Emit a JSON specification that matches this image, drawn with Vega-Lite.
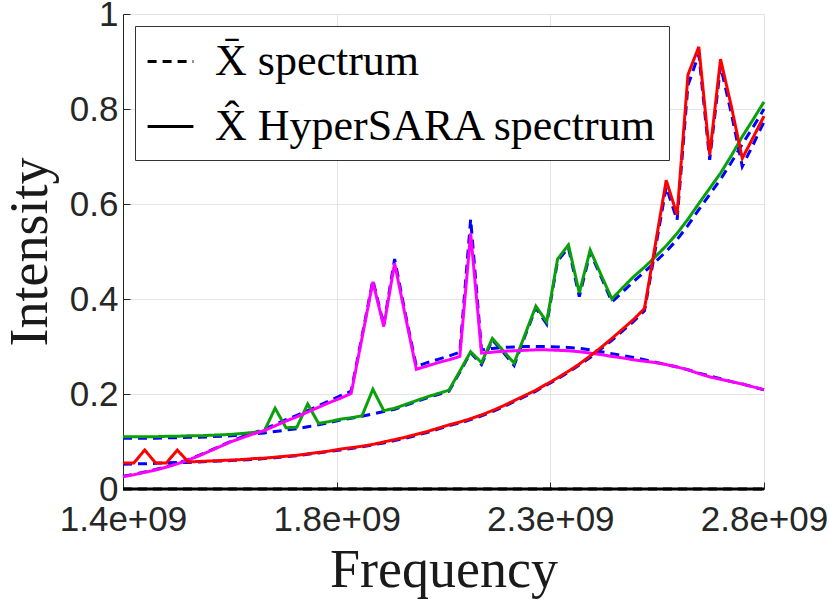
{
  "$schema": "https://vega.github.io/schema/vega-lite/v6.json",
  "width": 641,
  "height": 475,
  "autosize": {"type": "none"},
  "padding": {"left": 123, "top": 14, "right": 66, "bottom": 114},
  "background": "white",
  "config": {
    "view": {"stroke": null},
    "axis": {
      "labelFont": "Liberation Sans",
      "labelFontSize": 35,
      "labelColor": "#262626",
      "gridColor": "#e3e3e3",
      "gridWidth": 1,
      "tickColor": "#262626",
      "tickSize": -7,
      "domainColor": "#262626",
      "domainWidth": 1,
      "titleFont": "Liberation Serif",
      "titleFontSize": 54,
      "titleFontWeight": "normal",
      "titleColor": "#1a1a1a"
    }
  },
  "data": {
    "values": [
      {"f": 1400000000, "tR": 0.052, "tG": 0.107, "tM": 0.027, "tD": 0, "eR": 0.055, "eG": 0.110, "eM": 0.026, "eD": 0},
      {"f": 1423728814, "tR": 0.053, "tG": 0.107, "tM": 0.031, "tD": 0, "eR": 0.055, "eG": 0.110, "eM": 0.030, "eD": 0},
      {"f": 1447457627, "tR": 0.053, "tG": 0.107, "tM": 0.036, "tD": 0, "eR": 0.082, "eG": 0.110, "eM": 0.035, "eD": 0},
      {"f": 1471186441, "tR": 0.054, "tG": 0.107, "tM": 0.041, "tD": 0, "eR": 0.055, "eG": 0.110, "eM": 0.040, "eD": 0},
      {"f": 1494915254, "tR": 0.055, "tG": 0.108, "tM": 0.047, "tD": 0, "eR": 0.055, "eG": 0.111, "eM": 0.046, "eD": 0},
      {"f": 1518644068, "tR": 0.056, "tG": 0.108, "tM": 0.054, "tD": 0, "eR": 0.082, "eG": 0.111, "eM": 0.053, "eD": 0},
      {"f": 1542372881, "tR": 0.056, "tG": 0.109, "tM": 0.062, "tD": 0, "eR": 0.057, "eG": 0.112, "eM": 0.061, "eD": 0},
      {"f": 1566101695, "tR": 0.057, "tG": 0.109, "tM": 0.071, "tD": 0, "eR": 0.058, "eG": 0.112, "eM": 0.070, "eD": 0},
      {"f": 1589830508, "tR": 0.058, "tG": 0.110, "tM": 0.081, "tD": 0, "eR": 0.059, "eG": 0.113, "eM": 0.080, "eD": 0},
      {"f": 1613559322, "tR": 0.059, "tG": 0.111, "tM": 0.091, "tD": 0, "eR": 0.060, "eG": 0.114, "eM": 0.090, "eD": 0},
      {"f": 1637288136, "tR": 0.060, "tG": 0.112, "tM": 0.101, "tD": 0, "eR": 0.061, "eG": 0.115, "eM": 0.100, "eD": 0},
      {"f": 1661016949, "tR": 0.061, "tG": 0.114, "tM": 0.110, "tD": 0, "eR": 0.062, "eG": 0.117, "eM": 0.108, "eD": 0},
      {"f": 1684745763, "tR": 0.062, "tG": 0.116, "tM": 0.118, "tD": 0, "eR": 0.064, "eG": 0.119, "eM": 0.116, "eD": 0},
      {"f": 1708474576, "tR": 0.064, "tG": 0.118, "tM": 0.126, "tD": 0, "eR": 0.065, "eG": 0.122, "eM": 0.123, "eD": 0},
      {"f": 1732203390, "tR": 0.066, "tG": 0.121, "tM": 0.136, "tD": 0, "eR": 0.067, "eG": 0.170, "eM": 0.133, "eD": 0},
      {"f": 1755932203, "tR": 0.068, "tG": 0.124, "tM": 0.146, "tD": 0, "eR": 0.069, "eG": 0.129, "eM": 0.143, "eD": 0},
      {"f": 1779661017, "tR": 0.070, "tG": 0.127, "tM": 0.155, "tD": 0, "eR": 0.071, "eG": 0.130, "eM": 0.152, "eD": 0},
      {"f": 1803389831, "tR": 0.073, "tG": 0.131, "tM": 0.165, "tD": 0, "eR": 0.074, "eG": 0.179, "eM": 0.162, "eD": 0},
      {"f": 1827118644, "tR": 0.076, "tG": 0.135, "tM": 0.175, "tD": 0, "eR": 0.077, "eG": 0.138, "eM": 0.172, "eD": 0},
      {"f": 1850847458, "tR": 0.079, "tG": 0.140, "tM": 0.186, "tD": 0, "eR": 0.080, "eG": 0.142, "eM": 0.182, "eD": 0},
      {"f": 1874576271, "tR": 0.082, "tG": 0.145, "tM": 0.196, "tD": 0, "eR": 0.084, "eG": 0.147, "eM": 0.191, "eD": 0},
      {"f": 1898305085, "tR": 0.085, "tG": 0.149, "tM": 0.206, "tD": 0, "eR": 0.087, "eG": 0.150, "eM": 0.201, "eD": 0},
      {"f": 1922033898, "tR": 0.089, "tG": 0.153, "tM": 0.322, "tD": 0, "eR": 0.090, "eG": 0.154, "eM": 0.318, "eD": 0},
      {"f": 1945762712, "tR": 0.093, "tG": 0.158, "tM": 0.440, "tD": 0, "eR": 0.094, "eG": 0.210, "eM": 0.436, "eD": 0},
      {"f": 1969491525, "tR": 0.097, "tG": 0.163, "tM": 0.345, "tD": 0, "eR": 0.099, "eG": 0.165, "eM": 0.342, "eD": 0},
      {"f": 1993220339, "tR": 0.102, "tG": 0.168, "tM": 0.484, "tD": 0, "eR": 0.104, "eG": 0.170, "eM": 0.475, "eD": 0},
      {"f": 2016949153, "tR": 0.107, "tG": 0.176, "tM": 0.368, "tD": 0, "eR": 0.109, "eG": 0.178, "eM": 0.363, "eD": 0},
      {"f": 2040677966, "tR": 0.113, "tG": 0.184, "tM": 0.258, "tD": 0, "eR": 0.115, "eG": 0.186, "eM": 0.252, "eD": 0},
      {"f": 2064406780, "tR": 0.119, "tG": 0.192, "tM": 0.266, "tD": 0, "eR": 0.121, "eG": 0.194, "eM": 0.259, "eD": 0},
      {"f": 2088135593, "tR": 0.126, "tG": 0.199, "tM": 0.273, "tD": 0, "eR": 0.128, "eG": 0.201, "eM": 0.266, "eD": 0},
      {"f": 2111864407, "tR": 0.133, "tG": 0.206, "tM": 0.280, "tD": 0, "eR": 0.135, "eG": 0.208, "eM": 0.272, "eD": 0},
      {"f": 2135593220, "tR": 0.139, "tG": 0.246, "tM": 0.288, "tD": 0, "eR": 0.141, "eG": 0.248, "eM": 0.279, "eD": 0},
      {"f": 2159322034, "tR": 0.146, "tG": 0.287, "tM": 0.568, "tD": 0, "eR": 0.148, "eG": 0.289, "eM": 0.538, "eD": 0},
      {"f": 2183050847, "tR": 0.154, "tG": 0.262, "tM": 0.293, "tD": 0, "eR": 0.156, "eG": 0.266, "eM": 0.286, "eD": 0},
      {"f": 2206779661, "tR": 0.163, "tG": 0.314, "tM": 0.296, "tD": 0, "eR": 0.165, "eG": 0.317, "eM": 0.288, "eD": 0},
      {"f": 2230508475, "tR": 0.173, "tG": 0.288, "tM": 0.298, "tD": 0, "eR": 0.175, "eG": 0.291, "eM": 0.290, "eD": 0},
      {"f": 2254237288, "tR": 0.184, "tG": 0.260, "tM": 0.299, "tD": 0, "eR": 0.186, "eG": 0.265, "eM": 0.291, "eD": 0},
      {"f": 2277966102, "tR": 0.195, "tG": 0.322, "tM": 0.300, "tD": 0, "eR": 0.197, "eG": 0.325, "eM": 0.292, "eD": 0},
      {"f": 2301694915, "tR": 0.206, "tG": 0.381, "tM": 0.300, "tD": 0, "eR": 0.208, "eG": 0.385, "eM": 0.293, "eD": 0},
      {"f": 2325423729, "tR": 0.219, "tG": 0.347, "tM": 0.300, "tD": 0, "eR": 0.221, "eG": 0.352, "eM": 0.293, "eD": 0},
      {"f": 2349152542, "tR": 0.232, "tG": 0.480, "tM": 0.299, "tD": 0, "eR": 0.234, "eG": 0.484, "eM": 0.292, "eD": 0},
      {"f": 2372881356, "tR": 0.246, "tG": 0.508, "tM": 0.298, "tD": 0, "eR": 0.248, "eG": 0.514, "eM": 0.291, "eD": 0},
      {"f": 2396610169, "tR": 0.261, "tG": 0.405, "tM": 0.296, "tD": 0, "eR": 0.263, "eG": 0.413, "eM": 0.289, "eD": 0},
      {"f": 2420338983, "tR": 0.277, "tG": 0.498, "tM": 0.293, "tD": 0, "eR": 0.280, "eG": 0.503, "eM": 0.286, "eD": 0},
      {"f": 2444067797, "tR": 0.295, "tG": 0.447, "tM": 0.289, "tD": 0, "eR": 0.298, "eG": 0.451, "eM": 0.283, "eD": 0},
      {"f": 2467796610, "tR": 0.313, "tG": 0.394, "tM": 0.285, "tD": 0, "eR": 0.317, "eG": 0.400, "eM": 0.279, "eD": 0},
      {"f": 2491525424, "tR": 0.333, "tG": 0.415, "tM": 0.281, "tD": 0, "eR": 0.337, "eG": 0.424, "eM": 0.276, "eD": 0},
      {"f": 2515254237, "tR": 0.353, "tG": 0.437, "tM": 0.277, "tD": 0, "eR": 0.357, "eG": 0.447, "eM": 0.272, "eD": 0},
      {"f": 2538983051, "tR": 0.375, "tG": 0.457, "tM": 0.272, "tD": 0, "eR": 0.380, "eG": 0.467, "eM": 0.269, "eD": 0},
      {"f": 2562711864, "tR": 0.505, "tG": 0.478, "tM": 0.267, "tD": 0, "eR": 0.515, "eG": 0.489, "eM": 0.266, "eD": 0},
      {"f": 2586440678, "tR": 0.636, "tG": 0.500, "tM": 0.262, "tD": 0, "eR": 0.650, "eG": 0.512, "eM": 0.262, "eD": 0},
      {"f": 2610169492, "tR": 0.566, "tG": 0.525, "tM": 0.257, "tD": 0, "eR": 0.577, "eG": 0.538, "eM": 0.257, "eD": 0},
      {"f": 2633898305, "tR": 0.850, "tG": 0.555, "tM": 0.251, "tD": 0, "eR": 0.872, "eG": 0.568, "eM": 0.251, "eD": 0},
      {"f": 2657627119, "tR": 0.915, "tG": 0.588, "tM": 0.244, "tD": 0, "eR": 0.931, "eG": 0.601, "eM": 0.243, "eD": 0},
      {"f": 2681355932, "tR": 0.693, "tG": 0.620, "tM": 0.238, "tD": 0, "eR": 0.703, "eG": 0.633, "eM": 0.236, "eD": 0},
      {"f": 2705084746, "tR": 0.890, "tG": 0.652, "tM": 0.232, "tD": 0, "eR": 0.905, "eG": 0.665, "eM": 0.231, "eD": 0},
      {"f": 2728813559, "tR": 0.790, "tG": 0.688, "tM": 0.226, "tD": 0, "eR": 0.805, "eG": 0.702, "eM": 0.226, "eD": 0},
      {"f": 2752542373, "tR": 0.679, "tG": 0.726, "tM": 0.221, "tD": 0, "eR": 0.696, "eG": 0.742, "eM": 0.221, "eD": 0},
      {"f": 2776271186, "tR": 0.725, "tG": 0.762, "tM": 0.215, "tD": 0, "eR": 0.740, "eG": 0.778, "eM": 0.215, "eD": 0},
      {"f": 2800000000, "tR": 0.773, "tG": 0.800, "tM": 0.209, "tD": 0, "eR": 0.785, "eG": 0.815, "eM": 0.209, "eD": 0}
    ]
  },
  "encoding": {
    "x": {
      "field": "f",
      "type": "quantitative",
      "scale": {"domain": [1400000000, 2800000000], "nice": false, "zero": false},
      "axis": {
        "title": "Frequency",
        "values": [1400000000, 1866666667, 2333333333, 2800000000],
        "labelExpr": "datum.value < 1.5e9 ? '1.4e+09' : datum.value < 2e9 ? '1.8e+09' : datum.value < 2.5e9 ? '2.3e+09' : '2.8e+09'",
        "labelFlush": false,
        "labelOverlap": false,
        "labelPadding": 20,
        "titlePadding": 6,
        "grid": true
      }
    },
    "y": {
      "field": "v",
      "type": "quantitative",
      "scale": {"domain": [0, 1], "nice": false},
      "axis": {
        "title": "Intensity",
        "values": [0, 0.2, 0.4, 0.6, 0.8, 1],
        "format": "~g",
        "labelPadding": 12,
        "titlePadding": 12,
        "grid": true
      }
    }
  },
  "layer": [
    {
      "transform": [{"fold": ["tD", "tG", "tM", "tR"], "as": ["key", "v"]}],
      "mark": {"type": "line", "strokeWidth": 3},
      "encoding": {
        "color": {
          "field": "key",
          "type": "nominal",
          "scale": {
            "domain": ["tD", "tG", "tM", "tR", "eG", "eM", "eR", "eD"],
            "range": ["#000000", "#0000ff", "#0000ff", "#0000ff", "#0aa00a", "#ff00ff", "#ff0000", "#000000"]
          },
          "legend": null
        },
        "strokeDash": {
          "datum": "X\u0304 spectrum",
          "type": "nominal",
          "scale": {
            "domain": ["X\u0304 spectrum", "X\u0302 HyperSARA spectrum"],
            "range": [[9, 6], [1, 0]]
          },
          "legend": {
            "title": null,
            "orient": "top-left",
            "offset": 12,
            "symbolType": "stroke",
            "symbolStrokeColor": "black",
            "symbolStrokeWidth": 3,
            "symbolSize": 2100,
            "labelFont": "Liberation Serif",
            "labelFontSize": 44,
            "labelColor": "black",
            "labelLimit": 0,
            "labelOffset": 20,
            "rowPadding": 18,
            "padding": 11,
            "strokeColor": "#333333",
            "fillColor": "white"
          }
        }
      }
    },
    {
      "transform": [{"fold": ["eG", "eM", "eR", "eD"], "as": ["key", "v"]}],
      "mark": {"type": "line", "strokeWidth": 3},
      "encoding": {
        "color": {"field": "key", "type": "nominal", "legend": null},
        "strokeDash": {"datum": "X\u0302 HyperSARA spectrum", "type": "nominal"}
      }
    }
  ]
}
